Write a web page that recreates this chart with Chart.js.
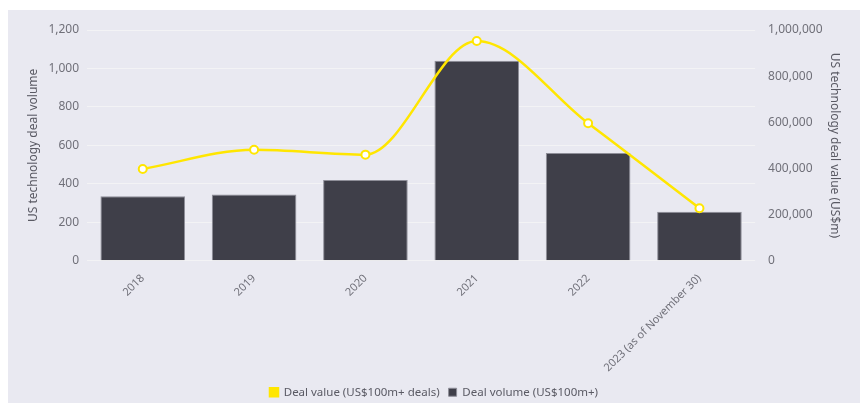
<!DOCTYPE html>
<html>
<head>
<meta charset="utf-8">
<script src="https://cdn.jsdelivr.net/npm/chart.js@4"></script>
<style>
	html, body { margin: 0; padding: 0; background: #fff; }
	#wrap { position: absolute; left: 8px; top: 10px; width: 852px; height: 393px; background: #e9e9f1; overflow: hidden; }
</style>
</head>
<body>
<div id="wrap"><canvas id="dealChart" width="852" height="393"></canvas></div>
<script>
const years = ['2018', '2019', '2020', '2021', '2022', '2023 (as of November 30)'];
const dealVolume = [335, 345, 420, 1040, 560, 255];
const dealValue = [398000, 481000, 460000, 952000, 596000, 228000];

const tickColor = '#707079';
const font = { family: 'Noto Sans', size: 12 };

new Chart(document.getElementById('dealChart'), {
	type: 'bar',
	data: {
		labels: years,
		datasets: [{
			type: 'line',
			label: 'Deal value (US$100m+ deals)',
			data: dealValue,
			yAxisID: 'y1',
			borderColor: '#ffe600',
			backgroundColor: '#ffe600',
			borderWidth: 2.5,
			cubicInterpolationMode: 'monotone',
			pointRadius: 4,
			pointBorderWidth: 2,
			pointBackgroundColor: '#ffffff',
			pointBorderColor: '#ffe600',
			order: 0
		}, {
			label: 'Deal volume (US$100m+)',
			data: dealVolume,
			yAxisID: 'y',
			backgroundColor: '#3f3f49',
			borderColor: '#8e8e98',
			borderWidth: 1,
			categoryPercentage: 0.76,
			barPercentage: 1,
			order: 1
		}]
	},
	options: {
		responsive: false,
		animation: false,
		layout: { padding: { top: 20, left: 14, right: 14, bottom: -5 } },
		plugins: {
			tooltip: { enabled: false },
			legend: {
				position: 'bottom',
				labels: {
					boxWidth: 8,
					boxHeight: 8,
					padding: 9,
					color: '#5a5a64',
					font: { family: 'Noto Sans', size: 11.5 }
				}
			}
		},
		scales: {
			x: {
				grid: { display: false },
				border: { display: false },
				ticks: { color: tickColor, font: { family: 'Noto Sans', size: 11 }, minRotation: 45, maxRotation: 45 }
			},
			y: {
				position: 'left',
				min: 0,
				max: 1200,
				grid: { color: '#f3f3f5', drawTicks: false },
				border: { display: false },
				ticks: { stepSize: 200, color: tickColor, font: font, padding: 8 },
				title: { display: true, text: 'US technology deal volume', color: '#5a5a64', font: font, padding: { top: 4, bottom: 0 } }
			},
			y1: {
				position: 'right',
				min: 0,
				max: 1000000,
				grid: { display: false },
				border: { display: false },
				ticks: { stepSize: 200000, color: tickColor, font: font, padding: 5 },
				title: { display: true, text: 'US technology deal value (US$m)', color: '#5a5a64', font: font, padding: { top: 4, bottom: 0 } }
			}
		}
	}
});
</script>
</body>
</html>
